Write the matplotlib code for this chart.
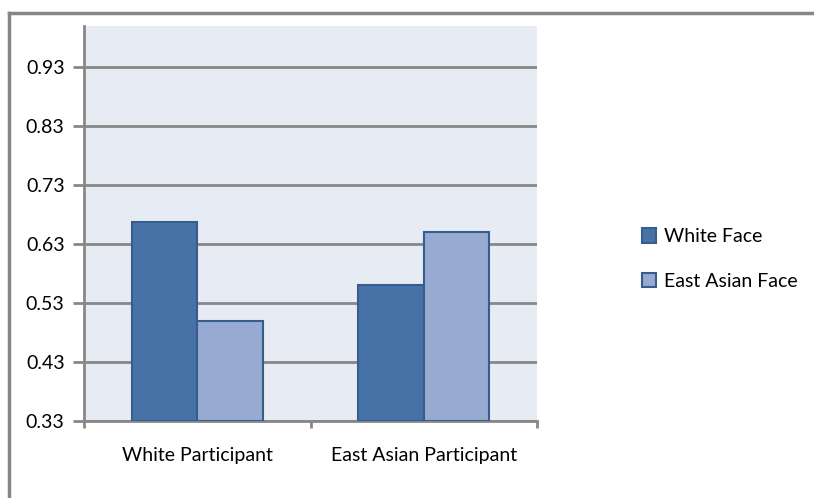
import matplotlib.pyplot as plt
from matplotlib.lines import Line2D
import numpy as np

categories = ['White Participant', 'East Asian Participant']
series = ['White Face', 'East Asian Face']
white_face = [0.667, 0.561]
east_asian_face = [0.500, 0.650]
yticks = [0.33, 0.43, 0.53, 0.63, 0.73, 0.83, 0.93]

plt.rcParams['font.family'] = ['Lato', 'DejaVu Sans']

W, H = 814, 498
fig = plt.figure(figsize=(W / 100, H / 100), dpi=100)

# plot area in pixel coords
left, right, top, bottom = 84, 537, 26, 421
ax = fig.add_axes([left / W, 1 - bottom / H, (right - left) / W, (bottom - top) / H])
ax.set_facecolor('#E7ECF4')

x = np.arange(len(categories))
bw = 0.29
ax.bar(x - bw / 2, [v - 0.33 for v in white_face], bw, bottom=0.33,
       color='#4772A8', edgecolor='#385D8A', lw=1.5, label=series[0], zorder=3)
ax.bar(x + bw / 2, [v - 0.33 for v in east_asian_face], bw, bottom=0.33,
       color='#96AAD2', edgecolor='#385D8A', lw=1.5, label=series[1], zorder=3)

ax.set_xlim(-0.5, 1.5)
ax.set_ylim(0.33, 1.0)
ax.set_yticks(yticks)
ax.set_yticklabels([f'{t:.2f}' for t in yticks])
ax.yaxis.grid(True, color='#878787', lw=2)
ax.set_axisbelow(True)

ax.set_xticks([-0.5, 0.5, 1.5])
ax.set_xticklabels([])
ax.set_xticks(x, minor=True)
ax.set_xticklabels(categories, minor=True)
ax.tick_params(axis='x', which='minor', length=0, pad=19, labelsize=14)
ax.tick_params(axis='x', which='major', length=5, width=2, color='#878787')
ax.tick_params(axis='y', length=8, width=2, color='#878787', pad=6, labelsize=14)

for s in ['top', 'right']:
    ax.spines[s].set_visible(False)
for s in ['left', 'bottom']:
    ax.spines[s].set_color('#878787')
    ax.spines[s].set_linewidth(2)

leg = fig.legend(loc='center left', bbox_to_anchor=(624 / W, 1 - 259 / H),
                 frameon=False, fontsize=14, handlelength=0.75, handleheight=0.75,
                 handletextpad=0.4, labelspacing=1.4)

# outer chart frame
fig.add_artist(Line2D([9 / W, 9 / W], [0, 1 - 13 / H], color='#868686', lw=2.5,
                      transform=fig.transFigure))
fig.add_artist(Line2D([9 / W, 1], [1 - 13 / H, 1 - 13 / H], color='#868686', lw=2.5,
                      transform=fig.transFigure))

fig.savefig('out.png', dpi=100)
